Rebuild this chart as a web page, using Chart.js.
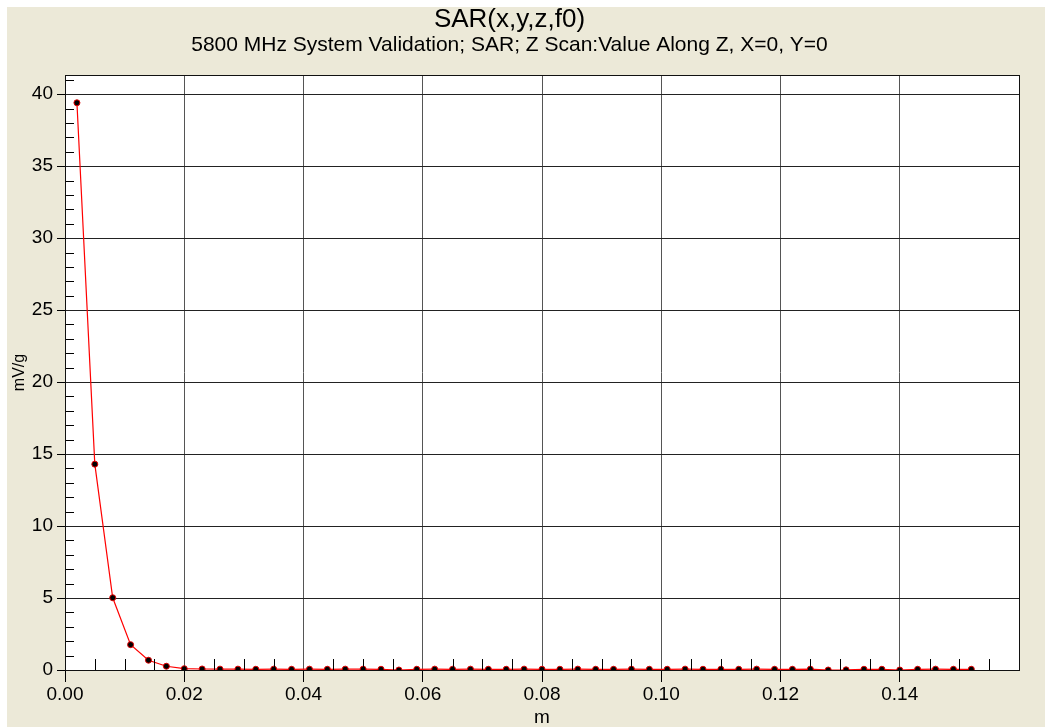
<!DOCTYPE html>
<html lang="en">
<head>
<meta charset="UTF-8">
<title>SAR(x,y,z,f0)</title>
<script src="https://cdn.jsdelivr.net/npm/chart.js@4.4.1/dist/chart.umd.min.js"></script>
<style>
  body { margin: 0; background: #fff; }
  canvas { display: block; }
</style>
</head>
<body>
<canvas id="sarChart" width="1045" height="727"></canvas>
<script>
// z positions of the scan (m)
var zPos = [0.002, 0.005, 0.008, 0.011, 0.014, 0.017, 0.020, 0.023, 0.026, 0.029,
            0.032, 0.035, 0.038, 0.041, 0.044, 0.047, 0.050, 0.053, 0.056, 0.059,
            0.062, 0.065, 0.068, 0.071, 0.074, 0.077, 0.080, 0.083, 0.086, 0.089,
            0.092, 0.095, 0.098, 0.101, 0.104, 0.107, 0.110, 0.113, 0.116, 0.119,
            0.122, 0.125, 0.128, 0.131, 0.134, 0.137, 0.140, 0.143, 0.146, 0.149,
            0.152];
// SAR values (mW/g)
var sarValues = [39.4, 14.3, 5.02, 1.76, 0.68, 0.26, 0.09, 0.07, 0.06, 0.06,
                 0.05, 0.06, 0.05, 0.06, 0.05, 0.06, 0.06, 0.05, 0.00, 0.05,
                 0.06, 0.05, 0.06, 0.05, 0.05, 0.06, 0.05, 0.05, 0.06, 0.05,
                 0.05, 0.06, 0.05, 0.05, 0.06, 0.05, 0.05, 0.05, 0.06, 0.05,
                 0.05, 0.06, 0.00, 0.01, 0.05, 0.05, 0.00, 0.05, 0.06, 0.05,
                 0.05];
var xTickValues = [0, 0.02, 0.04, 0.06, 0.08, 0.10, 0.12, 0.14];
var yTickValues = [0, 5, 10, 15, 20, 25, 30, 35, 40];

var plain = '"Liberation Sans", Arial, sans-serif';

var points = zPos.map(function (z, i) { return { x: z, y: sarValues[i] }; });

// beige panel behind everything
var panelBg = {
  id: 'panelBg',
  beforeDraw: function (chart) {
    var c = chart.ctx;
    c.save();
    c.fillStyle = '#fff';
    c.fillRect(0, 0, chart.width, chart.height);
    c.fillStyle = '#ece9d8';
    c.fillRect(7, 7, chart.width - 7, chart.height - 7);
    var a = chart.chartArea;
    c.fillStyle = '#fff';
    c.fillRect(a.left, a.top, a.right - a.left, a.bottom - a.top);
    c.restore();
  }
};

// minor ticks inside the plot + frame
var minorTicks = {
  id: 'minorTicks',
  afterDraw: function (chart) {
    var c = chart.ctx, a = chart.chartArea;
    var xs = chart.scales.x, ys = chart.scales.y;
    c.save();
    c.strokeStyle = '#000';
    c.lineWidth = 1;
    c.beginPath();
    for (var k = 1; k * 0.005 < xs.max; k++) {
      if (k % 4 === 0) continue;
      var px = Math.round(xs.getPixelForValue(k * 0.005)) + 0.5;
      c.moveTo(px, a.bottom);
      c.lineTo(px, a.bottom - 11);
    }
    for (var j = 1; j < ys.max; j++) {
      if (j % 5 === 0) continue;
      var py = Math.round(ys.getPixelForValue(j)) + 0.5;
      c.moveTo(a.left, py);
      c.lineTo(a.left + 9, py);
    }
    c.stroke();
    c.strokeStyle = '#111';
    c.strokeRect(a.left + 0.5, a.top + 0.5, a.right - a.left, a.bottom - a.top);
    c.restore();
  }
};

new Chart(document.getElementById('sarChart'), {
  type: 'scatter',
  data: {
    datasets: [{
      data: points,
      showLine: true,
      borderColor: '#ff0000',
      borderWidth: 1.2,
      tension: 0,
      pointRadius: 3,
      pointBackgroundColor: '#000',
      pointBorderColor: '#e00000',
      pointBorderWidth: 1
    }]
  },
  options: {
    responsive: false,
    animation: false,
    layout: { padding: { left: 0, right: 26, top: 0, bottom: 0 } },
    plugins: {
      legend: { display: false },
      tooltip: { enabled: false },
      title: {
        display: true,
        text: 'SAR(x,y,z,f0)',
        color: '#000',
        font: { family: plain, size: 26, weight: 'normal', lineHeight: 1 },
        padding: { top: 7, bottom: 1 }
      },
      subtitle: {
        display: true,
        text: '5800 MHz System Validation; SAR; Z Scan:Value Along Z, X=0, Y=0',
        color: '#000',
        font: { family: plain, size: 21, weight: 'normal', lineHeight: 1 },
        padding: { top: 1, bottom: 19 }
      }
    },
    scales: {
      x: {
        type: 'linear',
        min: 0,
        max: 0.16,
        afterBuildTicks: function (s) { s.ticks = xTickValues.map(function (v) { return { value: v }; }); },
        afterFit: function (s) { s.height = 57; },
        ticks: {
          color: '#000',
          padding: 1,
          maxRotation: 0,
          font: { family: plain, size: 19 },
          callback: function (v) { return v.toFixed(2); }
        },
        grid: { color: '#555', lineWidth: 1, tickLength: 12, tickColor: '#000' },
        border: { display: true, color: '#000', width: 1 },
        title: {
          display: true,
          text: 'm',
          color: '#000',
          font: { family: plain, size: 19, lineHeight: 1 },
          padding: { top: 0, bottom: 0 }
        }
      },
      y: {
        type: 'linear',
        min: 0,
        max: 41.33,
        afterBuildTicks: function (s) { s.ticks = yTickValues.map(function (v) { return { value: v }; }); },
        afterFit: function (s) { s.width = 65; },
        ticks: {
          color: '#000',
          padding: 4,
          font: { family: plain, size: 19 }
        },
        grid: { color: '#222', lineWidth: 1, tickLength: 8, tickColor: '#000' },
        border: { display: true, color: '#000', width: 1 },
        title: {
          display: true,
          text: 'mV/g',
          color: '#000',
          font: { family: plain, size: 16 },
          padding: { top: 10, bottom: 0 }
        }
      }
    }
  },
  plugins: [panelBg, minorTicks]
});
</script>
</body>
</html>
